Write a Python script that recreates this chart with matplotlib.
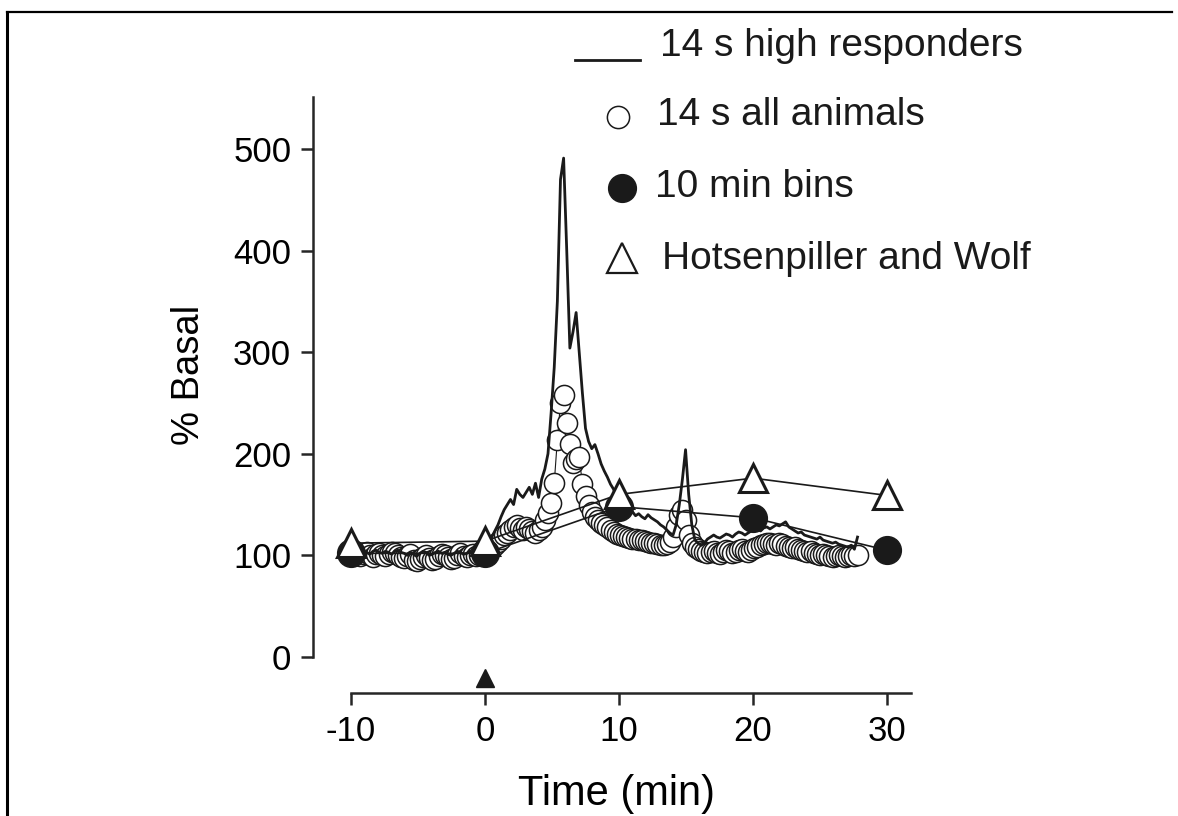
import numpy as np
import matplotlib
matplotlib.use("Agg")
import matplotlib.pyplot as plt
from matplotlib.lines import Line2D

plt.rcParams['font.family'] = ['Liberation Sans', 'DejaVu Sans']
plt.rcParams['axes.unicode_minus'] = False

# 14 s bins, starting at -10 min
bin_min = 14 / 60.0

# 14 s, all animals (% basal)
all_animals = [
    101, 100, 102, 99, 101, 103, 100, 98, 101, 102,
    100, 99, 101, 103, 102, 100, 98, 97, 99, 101,
    95, 94, 96, 98, 100, 97, 95, 96, 99, 101,
    100, 98, 96, 97, 100, 102, 99, 98, 100, 101,
    99, 100, 101,
    102, 104, 107, 110, 113, 116, 120, 122, 125, 128,
    130, 127, 125, 128, 126, 124, 122, 125, 128, 135, 142,
    152, 171, 214, 250, 258, 230, 210, 191, 195, 197,
    170, 158, 150, 143, 138, 135, 132, 130, 128, 125, 123, 121,
    120, 119, 118, 117, 116, 116, 115, 115, 114, 113,
    112, 112, 111, 110, 110, 111, 113, 118,
    128, 140, 145, 135, 120, 112,
    108, 106, 104, 103, 102, 103, 104, 102, 101, 103,
    105, 104, 102, 103, 105, 106, 104, 103, 105,
    107, 108, 110, 111, 112, 112, 111, 110, 112, 111, 109, 108, 107,
    108, 106, 105, 104, 103, 104, 102, 101, 100, 101,
    100, 99, 98, 99, 100, 99, 98, 99, 100, 99, 100,
]

# 14 s, high responders (% basal)
high_resp = [
    104, 103, 105, 102, 104, 103, 101, 104, 105, 103,
    102, 104, 103, 101, 104, 105, 103, 102, 100, 103,
    101, 99, 102, 104, 103, 100, 101, 103, 104, 102,
    103, 101, 100, 102, 104, 103, 101, 102, 104, 103,
    102, 104, 105,
    108, 112, 118, 124, 130, 138, 145, 150, 155, 150,
    165, 160, 157, 162, 167, 160, 171, 157, 175, 185, 200,
    240, 285, 350, 470, 491, 400, 304, 320, 339, 300,
    260, 225, 212, 205, 209, 200, 190, 183, 177, 170, 165, 155,
    150, 145, 142, 140, 143, 139, 141, 138, 136, 140,
    137, 135, 133, 130, 128, 125, 122, 120,
    130, 150, 175, 204, 160, 130,
    115, 112, 110, 112, 116, 118, 120, 118, 117, 119,
    121, 120, 118, 121, 123, 122, 120, 122, 124,
    125, 126, 124, 127, 128, 126, 128, 130, 129, 131, 133, 128, 126,
    124, 122, 123, 120, 119, 118, 117, 116, 118, 115,
    114, 113, 112, 113, 111, 110, 109, 108, 110, 106, 118,
]

# 10 min bins and Hotsenpiller and Wolf
bin_times = [-10, 0, 10, 20, 30]
bins_10min = [102, 102, 148, 137, 105]
hw_values = [112, 114, 160, 176, 159]

t14 = -10 + np.arange(len(all_animals)) * bin_min

ink = '#1a1a1a'
axc = '#262626'

fig = plt.figure(figsize=(11.78, 8.16), dpi=100)
ax = fig.add_axes([0.26384, 0.14510, 0.51757, 0.74706])
ax.set_xlim(-13, 32.5)
ax.set_ylim(-40, 560)

ax.plot(t14, all_animals, '-o', color=ink, lw=0.8, ms=14.5, mfc='white',
        mec=ink, mew=1.1, zorder=2)
ax.plot(t14, high_resp, '-', color=ink, lw=2.0, zorder=3)
ax.plot(bin_times, bins_10min, '-o', color=ink, lw=1.2, ms=20, mfc=ink,
        mec=ink, zorder=4)
ax.plot(bin_times, hw_values, '-^', color=ink, lw=1.2, ms=20, mfc='white',
        mec=ink, mew=2.2, zorder=5)

# injection marker at t = 0
ax.plot([0], [-21], marker='^', color=ink, ms=13, clip_on=False, zorder=6)

for s in ['top', 'right']:
    ax.spines[s].set_visible(False)
ax.spines['left'].set_position(('data', -12.84))
ax.spines['left'].set_bounds(0, 551)
ax.spines['bottom'].set_position(('data', -35.4))
ax.spines['bottom'].set_bounds(-10, 31.8)
for s in ['left', 'bottom']:
    ax.spines[s].set_linewidth(1.8)
    ax.spines[s].set_color(axc)

ax.set_xticks([-10, 0, 10, 20, 30])
ax.set_yticks([0, 100, 200, 300, 400, 500])
ax.tick_params(axis='both', direction='out', length=8.6, width=1.8,
               color=axc, labelsize=25, pad=7)

ax.set_xlabel('Time (min)', fontsize=30)
ax.xaxis.set_label_coords(0.502, -0.125)
ax.set_ylabel('% Basal', fontsize=27.5)
ax.yaxis.set_label_coords(-0.17, 0.529)

# legend drawn in figure pixel space
W, H = 1178.0, 816.0
def fx(px):
    return px / W
def fy(py):
    return 1 - py / H

fig.add_artist(Line2D([fx(575), fx(640)], [fy(60), fy(60)], color=ink, lw=2.0))
fig.add_artist(Line2D([fx(618)], [fy(117)], marker='o', ms=16, mfc='white',
                      mec=ink, mew=1.1, ls='none'))
fig.add_artist(Line2D([fx(622)], [fy(188)], marker='o', ms=20, mfc=ink,
                      mec=ink, ls='none'))
fig.add_artist(Line2D([fx(622)], [fy(258)], marker='^', ms=21, mfc='white',
                      mec=ink, mew=1.6, ls='none'))
labels = ['14 s high responders', '14 s all animals', '10 min bins',
          'Hotsenpiller and Wolf']
lx = [660, 657, 655, 662]
ly = [56, 125, 197, 269]
for lab, x, y in zip(labels, lx, ly):
    fig.text(fx(x), fy(y), lab, fontsize=28, ha='left', va='baseline', color=ink)

# page border (top and left)
fig.add_artist(Line2D([fx(7), fx(1172)], [fy(12), fy(12)], color='black', lw=1.6))
fig.add_artist(Line2D([fx(7), fx(7)], [fy(12), fy(816)], color='black', lw=2.2))

fig.savefig('out.png', dpi=100)
